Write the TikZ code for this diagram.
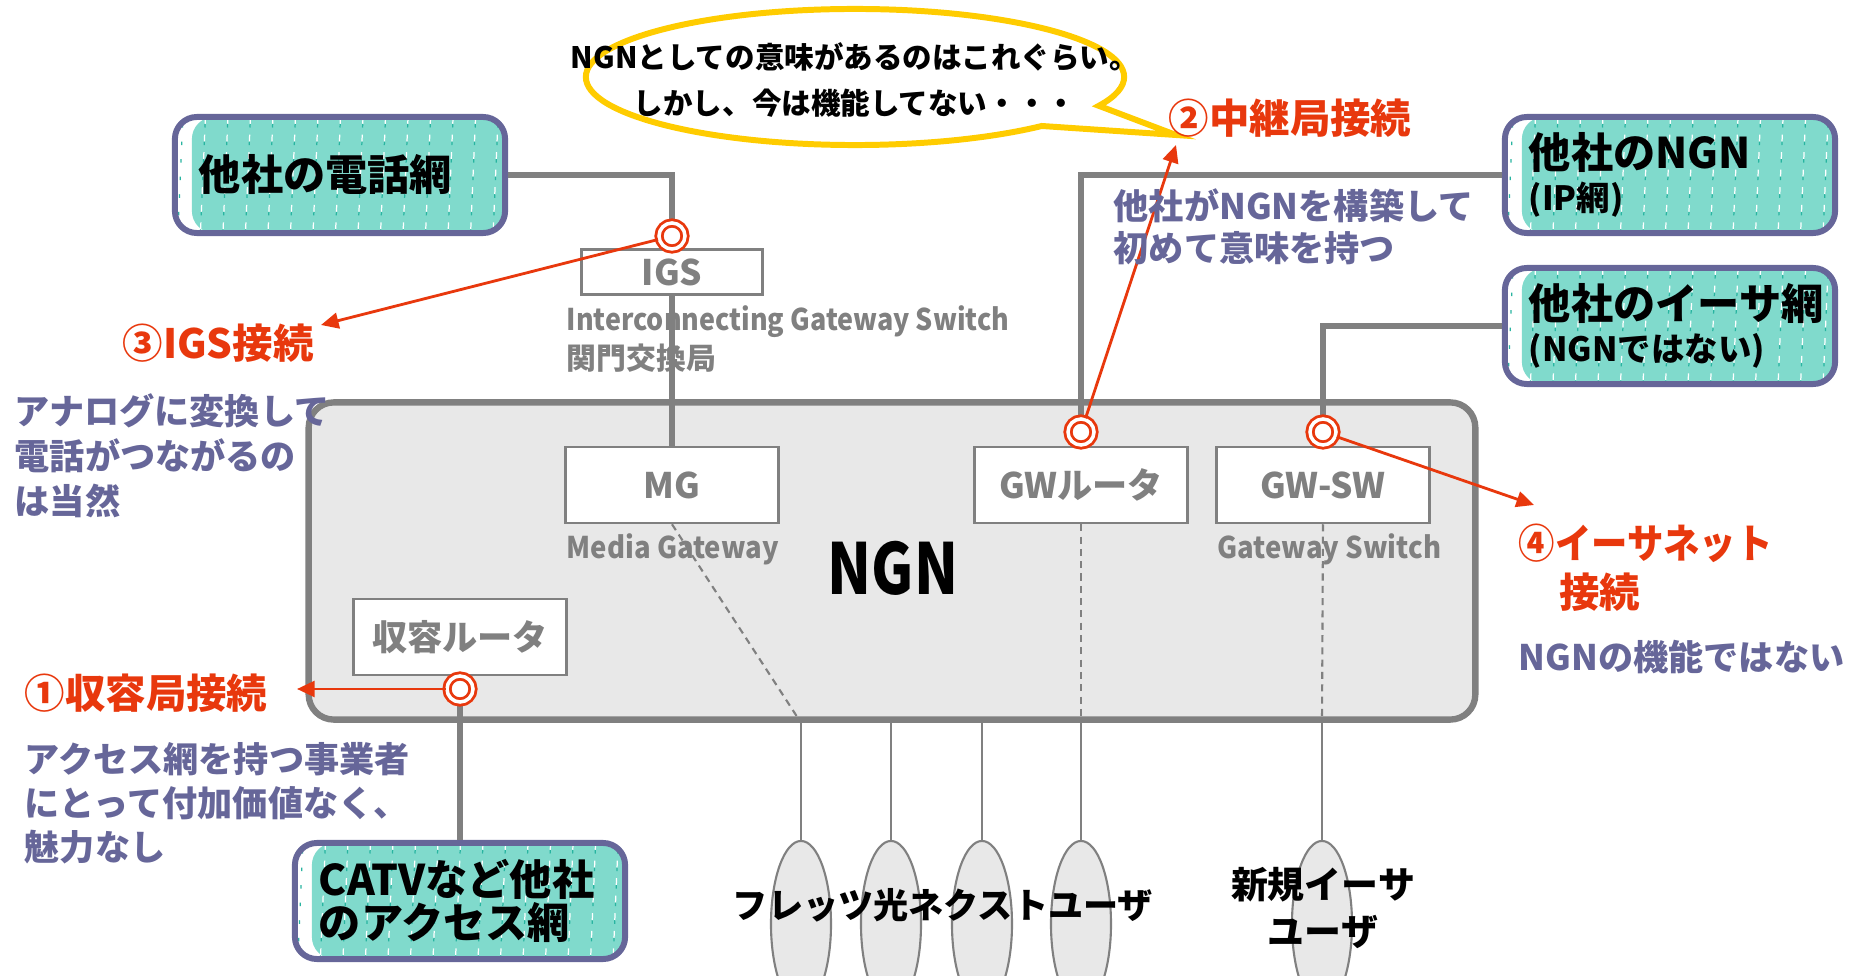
\documentclass[tikz,border=0pt]{standalone}
\usepackage{fontspec}
\setmainfont{Noto Sans CJK JP}
\usetikzlibrary{arrows.meta,shapes.geometric,shapes.callouts,calc}
\definecolor{lgray}{RGB}{128,128,128}
\definecolor{ngnfill}{RGB}{232,232,232}
\definecolor{redc}{RGB}{232,56,13}
\definecolor{purp}{RGB}{102,102,153}
\definecolor{goldc}{RGB}{255,204,0}
\definecolor{tealc}{RGB}{128,218,204}
\definecolor{tealdk}{RGB}{40,180,160}
\newcommand\myfs[2]{\fontsize{#1}{#2}\selectfont\bfseries}
\begin{document}
\begin{tikzpicture}[x=0.01cm, y=-0.01cm,
  every node/.style={inner sep=0pt},
  tealbox/.style={draw=purp, line width=1.7pt, rounded corners=0.22cm, fill=white,
    minimum width=3.3cm, minimum height=1.16cm, inner xsep=0.24cm,
    text width=2.82cm, align=left,
    path picture={
      \fill[tealc] ([xshift=0.17cm]path picture bounding box.south west) rectangle (path picture bounding box.north east);
      \foreach \i in {0,...,15}{
        \draw[white, line width=0.35pt, dash pattern=on 2pt off 3pt]
          ([xshift=\i*0.225cm+0.08cm]path picture bounding box.north west) -- ++(-0.06cm,-1.4cm);
        \draw[tealdk, line width=0.35pt, dash pattern=on 1pt off 4pt, dash phase=3pt]
          ([xshift=\i*0.225cm+0.08cm]path picture bounding box.north west) -- ++(-0.06cm,-1.4cm);
      }
    }},
  ngnbox/.style={draw=lgray, line width=1.8pt, fill=ngnfill, rounded corners=0.25cm,
    minimum width=11.66cm, minimum height=3.17cm},
  gbox/.style={draw=lgray, line width=0.7pt, fill=white, text=lgray,
    font=\myfs{10}{12}, minimum width=2.13cm, minimum height=0.76cm},
  gline/.style={draw=lgray, line width=1.5pt},
  thinline/.style={draw=lgray, line width=0.6pt},
  dline/.style={draw=lgray, line width=0.6pt, dash pattern=on 2pt off 1.5pt},
  dcirc/.style={circle, draw=redc, line width=0.8pt, double=white, double distance=1pt,
    fill=white, minimum size=0.26cm},
  rarrow/.style={draw=redc, line width=0.8pt, -{Triangle[length=5pt,width=4.5pt]}},
  redlbl/.style={text=redc, font=\myfs{11.5}{14}},
  purplbl/.style={text=purp, align=left},
  graylbl/.style={text=lgray, align=left},
  unode/.style={ellipse, draw=lgray, fill=ngnfill, line width=0.6pt,
    minimum width=0.6cm, minimum height=1.66cm},
]
\path[use as bounding box] (0,0) rectangle (1850,976);

% NGN box and inner boxes
\node[ngnbox] (ngn) at (892,561) {};
\node[font=\myfs{20}{20}] (ngnlbl) at (893,568) {\scalebox{0.82}[1]{NGN}};
\node[gbox] (MG) at (672,485) {MG};
\node[gbox] (GWR) at (1081,485) {GWルータ};
\node[gbox] (GWSW) at (1323,485) {GW-SW};
\node[gbox] (RR) at (460,637) {収容ルータ};

% other networks
\node[tealbox] (phone) at (340,175) {\myfs{12}{14}他社の電話網};
\node[tealbox] (other) at (1670,175) {\myfs{12}{13}他社のNGN\\\myfs{9.5}{13}(IP網)};
\node[tealbox] (ether) at (1670,326) {\myfs{12}{13}他社のイーサ網\\\myfs{9.5}{12.8}(NGNではない)};
\node[tealbox] (catv) at (460,901) {\myfs{12}{14.5}CATVなど他社\\のアクセス網};

% gray connectors
\draw[gline] (phone.east) -| (MG.north);
\draw[gline] (other.west) -| (GWR.north);
\draw[gline] (ether.west) -| (GWSW.north);
\draw[gline] (RR.south) -- (catv.north);

% IGS
\node[gbox, minimum width=1.81cm, minimum height=0.45cm] (IGS) at (672,272) {IGS};
\node[graylbl, anchor=north west, font=\myfs{8.5}{11.1}] (igslbl) at (566,305) {\scalebox{0.9}[1]{Interconnecting Gateway Switch}\\関門交換局};
\node[graylbl, anchor=west, font=\myfs{8.5}{10}] (mglbl) at (566,549) {\scalebox{0.92}[1]{Media Gateway}};
\node[graylbl, anchor=west, font=\myfs{8.5}{10}] (swlbl) at (1217,549) {\scalebox{0.92}[1]{Gateway Switch}};

% users
\foreach \n/\x in {u1/801,u2/891,u3/982,u4/1081,u5/1322}
  \node[unode] (\n) at (\x,924) {};
\foreach \n in {u1,u2,u3,u4,u5}
  \coordinate (b\n) at (\n.north |- ngn.south);
\foreach \n in {u1,u2,u3,u4,u5}
  \draw[thinline] (b\n) -- (\n.north);
\draw[dline] (MG.south) -- (bu1);
\draw[dline] (GWR.south) -- (bu4);
\draw[dline] (GWSW.south) -- (bu5);
\node[font=\myfs{10}{12}] (ftxt) at (943,905) {フレッツ光ネクストユーザ};
\node[font=\myfs{10.5}{13.4}, align=center] (etxt) at (1323,908) {新規イーサ\\ユーザ};

% connection points
\node[dcirc] (c3) at (672,236) {};
\node[dcirc] (c2) at (1081,432) {};
\node[dcirc] (c4) at (1323,432) {};
\node[dcirc] (c1) at (460,689) {};

% speech bubble
\node[ellipse callout, draw=goldc, line width=1.7pt, fill=white,
  minimum width=5.38cm, minimum height=1.36cm,
  callout absolute pointer={(1176,135)}, callout pointer arc=21] (bubble) at (855,77) {};
\node[align=center, font=\myfs{8.4}{12.8}] (btxt) at (855,80)
  {NGNとしての意味があるのはこれぐらい。\\しかし、今は機能してない・・・};

% red labels and arrows
\node[redlbl, anchor=west] (lab1) at (24,693) {①収容局接続};
\node[redlbl, anchor=west] (lab3) at (122,343) {③IGS接続};
\node[redlbl, anchor=west] (lab2) at (1168,118) {②中継局接続};
\node[redlbl, anchor=north west, align=left, font=\myfs{11.5}{14}] (lab4) at (1518,523) {\scalebox{0.9}[1]{④イーサネット}\\\hphantom{④}接続};
\coordinate (t1) at (297,689);
\coordinate (t3) at (321,325);
\coordinate (t2) at (1176,145);
\coordinate (t4) at (1534,505);
\draw[rarrow] (c1) -- (t1);
\draw[rarrow] (c3) -- (t3);
\draw[rarrow] (c2) -- (t2);
\draw[rarrow] (c4) -- (t4);

% purple notes
\node[purplbl, anchor=north west, font=\myfs{10}{12.8}] (n3) at (14,393) {アナログに変換して\\電話がつながるの\\は当然};
\node[purplbl, anchor=north west, font=\myfs{10}{12.4}] (n1) at (24,742) {アクセス網を持つ事業者\\にとって付加価値なく、\\魅力なし};
\node[purplbl, anchor=north west, font=\myfs{10}{12}] (n2) at (1113,188) {他社がNGNを構築して\\初めて意味を持つ};
\node[purplbl, anchor=west, font=\myfs{10}{12}] (n4) at (1518,657) {NGNの機能ではない};
\end{tikzpicture}
\end{document}
